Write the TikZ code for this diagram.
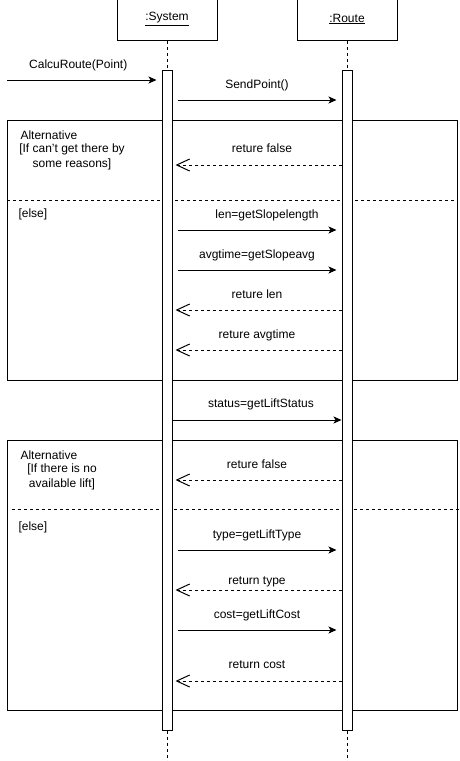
\documentclass[tikz,border=0pt]{standalone}
\usepackage{fontspec}
\setmainfont{Liberation Sans}
\usetikzlibrary{arrows.meta,positioning}

\begin{document}
\begin{tikzpicture}[x=1pt, y=-1pt, line width=1pt,
	every node/.style={font=\fontsize{12}{15}\selectfont},
	head/.style={draw, minimum width=100pt, minimum height=42pt, inner sep=0},
	bar/.style={draw, fill=white, minimum width=10pt, minimum height=660pt, inner sep=0},
	frame/.style={draw, anchor=north west, minimum width=450pt, inner sep=0},
	life/.style={dash pattern=on 3pt off 3pt},
	sep/.style={dash pattern=on 3pt off 3pt},
	call/.style={-{Stealth[length=8pt, width=7pt, inset=2pt]}, shorten <=5pt, shorten >=5pt},
	reply/.style={dash pattern=on 3pt off 3pt, -{Straight Barb[length=13pt, width=12pt]}, shorten >=3pt},
	msg/.style={above=8.5pt, inner sep=0, text height=8.7pt, text depth=2.5pt}]
	\useasboundingbox (0,0) rectangle (459,761);
	\node [frame, minimum height=260pt] (alt1) at (7,120) {};
	\node [frame, minimum height=270pt] (alt2) at (7,440) {};
	\draw [sep] (alt1.west |- 0,200) -- (alt1.east |- 0,200);
	\draw [sep, shorten <=5pt, shorten >=-2pt] (alt2.west |- 0,509) -- (alt2.east |- 0,509);
	\node [anchor=west, inner sep=0] (alt1 name) at (20,135.5) {Alternative};
	\node [align=center, inner sep=0] (alt1 guard) at (72,157) {[If can't get there by\\ some reasons]};
	\node [anchor=west, inner sep=0] (alt1 else) at (18,214) {[else]};
	\node [anchor=west, inner sep=0] (alt2 name) at (20,455.5) {Alternative};
	\node [align=center, inner sep=0] (alt2 guard) at (62,476.5) {[If there is no\\ available lift]};
	\node [anchor=west, inner sep=0] (alt2 else) at (18,527.5) {[else]};
	\node [head] (sys) at (167,19) {\underline{:System}};
	\node [head] (route) at (347,19) {\underline{:Route}};
	\draw [life] (sys.south) -- (sys.south |- 0,761);
	\draw [life] (route.south) -- (route.south |- 0,761);
	\node [bar] (sa) at (167,400) {};
	\node [bar] (ra) at (347,400) {};
	\coordinate (start) at (7,80);
	\draw [call, shorten <=0pt] (start) -- (sa.west |- start) node[msg, midway, xshift=-6pt]{CalcuRoute(Point)};
	\draw [call] (sa.east |- 0,100) -- (ra.west |- 0,100) node[msg, midway]{SendPoint()};
	\draw [reply] (ra.west |- 0,165) -- (sa.east |- 0,165) node[msg, midway, xshift=5pt, above=9.5pt]{reture false};
	\draw [call] (sa.east |- 0,230) -- (ra.west |- 0,230) node[msg, midway, xshift=10pt]{len=getSlopelength};
	\draw [call] (sa.east |- 0,270) -- (ra.west |- 0,270) node[msg, midway]{avgtime=getSlopeavg};
	\draw [reply] (ra.west |- 0,310) -- (sa.east |- 0,310) node[msg, midway]{reture len};
	\draw [reply] (ra.west |- 0,350) -- (sa.east |- 0,350) node[msg, midway]{reture avgtime};
	\draw [call, shorten <=0pt, shorten >=0pt] (sa.east |- 0,420) -- (ra.west |- 0,420) node[msg, midway, xshift=4pt, above=9.5pt]{status=getLiftStatus};
	\draw [reply] (ra.west |- 0,480) -- (sa.east |- 0,480) node[msg, midway, above=9pt]{reture false};
	\draw [call] (sa.east |- 0,550) -- (ra.west |- 0,550) node[msg, midway, above=9pt]{type=getLiftType};
	\draw [reply] (ra.west |- 0,590) -- (sa.east |- 0,590) node[msg, midway, above=3pt]{return type};
	\draw [call] (sa.east |- 0,630) -- (ra.west |- 0,630) node[msg, midway, above=9pt]{cost=getLiftCost};
	\draw [reply] (ra.west |- 0,681) -- (sa.east |- 0,681) node[msg, midway, above=10pt]{return cost};
\end{tikzpicture}
\end{document}
